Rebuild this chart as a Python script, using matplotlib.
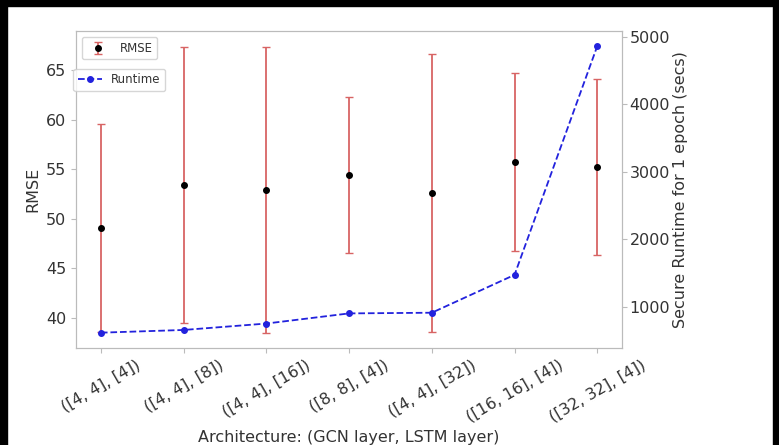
import matplotlib
matplotlib.use('Agg')
import matplotlib.pyplot as plt
import numpy as np
from matplotlib.patches import Rectangle

# architectures (GCN layer, LSTM layer)
architectures = ['([4, 4], [4])', '([4, 4], [8])', '([4, 4], [16])', '([8, 8], [4])',
                 '([4, 4], [32])', '([16, 16], [4])', '([32, 32], [4])']
rmseMean = [49.1, 53.4, 52.9, 54.4, 52.6, 55.7, 55.2]
rmseErr = [10.5, 13.9, 14.4, 7.9, 14.0, 9.0, 8.9]
runtimeSecs = [620, 660, 755, 905, 915, 1475, 4860]

textColor = '#333333'
plt.rcParams['font.size'] = 11.5
plt.rcParams['text.color'] = textColor
plt.rcParams['axes.labelcolor'] = textColor
plt.rcParams['xtick.color'] = textColor
plt.rcParams['ytick.color'] = textColor

fig = plt.figure(figsize=(7.79, 4.45), dpi=100)
ax1 = fig.add_axes([0.0976, 0.219, 0.701, 0.711])
ax2 = ax1.twinx()

x = np.arange(len(architectures))

ax1.errorbar(x, rmseMean, yerr=rmseErr, fmt='o', color='black', ms=4,
             ecolor='#d86464', elinewidth=1.3, capsize=3, label='RMSE')
ax2.plot(x, runtimeSecs, '--o', color='#2222dd', ms=4, lw=1.3, label='Runtime')

ax1.set_ylim(37.0, 68.95)
ax1.set_yticks([40, 45, 50, 55, 60, 65])
ax2.set_ylim(400, 5080)
ax2.set_yticks([1000, 2000, 3000, 4000, 5000])
ax2.tick_params(axis='y', pad=2)

ax1.set_xticks(x)
ax1.set_xticklabels(architectures, rotation=30)
ax1.set_xlabel('Architecture: (GCN layer, LSTM layer)')
ax1.set_ylabel('RMSE')
ax2.set_ylabel('Secure Runtime for 1 epoch (secs)', labelpad=2)

for ax in (ax1, ax2):
    for s in ax.spines.values():
        s.set_color('#bbbbbb')
    ax.tick_params(color='#bbbbbb')

ax1.legend(loc='upper left', fontsize=8.5, bbox_to_anchor=(0.0, 1.0))
ax2.legend(loc='upper left', fontsize=8.5, bbox_to_anchor=(-0.016, 0.9))

# black frame of the screenshot (no bottom edge)
fig.patches.extend([
    Rectangle((0, 0), 7 / 779, 1, transform=fig.transFigure, color='black', zorder=10),
    Rectangle((1 - 6 / 779, 0), 6 / 779, 1, transform=fig.transFigure, color='black', zorder=10),
    Rectangle((0, 1 - 6 / 445), 1, 6 / 445, transform=fig.transFigure, color='black', zorder=10),
])

plt.savefig('out.png', dpi=100)
plt.close()
